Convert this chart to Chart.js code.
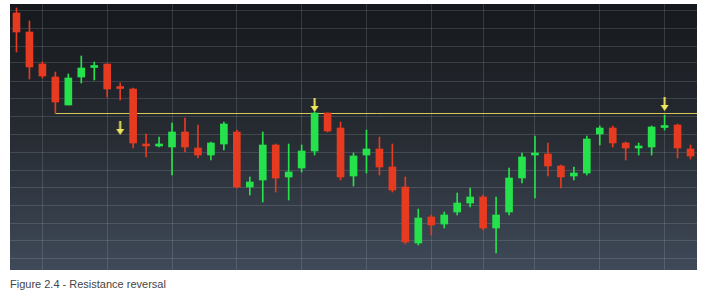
<!DOCTYPE html>
<html>
<head>
<meta charset="utf-8">
<script src="https://cdn.jsdelivr.net/npm/chart.js@4.4.1/dist/chart.umd.min.js"></script>
<style>
  html, body { margin: 0; padding: 0; background: #fff; }
  #wrap { position: relative; width: 706px; height: 298px; overflow: hidden; }
  #box { position: absolute; left: 10px; top: 4px; width: 687px; height: 266px; }
  #caption {
    position: absolute; left: 10px; top: 278px;
    font: 11px/13px "Liberation Sans", Arial, sans-serif; color: #444;
  }
</style>
</head>
<body>
<div id="wrap">
  <div id="box"><canvas id="chart"></canvas></div>
  <div id="caption">Figure 2.4 - Resistance reversal</div>
</div>
<script>
// candle values (arbitrary price units)
const opens  = [257, 238, 206, 193, 165, 193, 202.5, 206, 182, 181, 124.5, 124, 123, 138, 122, 115, 126, 138,
                83, 90, 125, 93, 102, 119, 157, 142, 94, 115, 121, 103, 83, 27, 53, 46, 58, 67, 73, 42, 58,
                92, 115, 116, 104, 94, 97, 136, 142, 127, 122, 123, 142.5, 145, 121];
const closes = [238, 203, 194, 168, 192, 202, 203, 181, 181.5, 127, 124, 124.5, 138, 123, 115, 127, 146, 83,
                88, 125, 92, 98, 119, 157, 139, 93, 114, 121, 103, 80, 28, 52, 45, 55, 67, 73, 42, 55, 92,
                113, 115.5, 104, 93, 97, 131, 142, 127, 122, 122.5, 143, 143, 122, 114];
const highs  = [262, 249, 208, 198, 196, 214, 208, 206, 187, 182, 136, 133, 147, 152, 145, 128, 148, 140,
                93, 138, 126, 126, 125, 158, 157, 148, 117, 140, 133, 126, 93, 61, 55, 58, 77, 82, 75, 73, 102,
                117, 134, 127, 105, 103, 134, 144, 144, 128, 127, 144, 155, 146, 125];
const lows   = [218, 191, 192, 157, 165, 187, 190, 173, 170, 122, 113, 123, 95, 118, 112, 110, 120, 82,
                75, 68, 78, 70, 98, 115, 138, 90, 84, 97, 95, 78, 26, 25, 35, 42, 55, 63, 40, 17, 55,
                87, 72, 94, 82, 90, 95, 125, 123, 110, 115, 115, 140, 112, 111];

const days = opens.map((_, i) => String(i + 1));

const resistanceLevel = 156.5;
const resistanceFrom = 3;
const resistanceTo = 52.5;

const arrowDays = [8, 23, 50];
const arrowTips = [135, 158, 159];

const yGrid = [12, 30, 47, 65, 83, 100, 118, 136, 154, 171, 189, 207, 224, 242, 260];
const xGridDays = [2, 7, 12, 17, 22, 27, 32, 36, 40, 45, 50];

const UP = '#25e24c';
const DOWN = '#e63b20';
const GRID = 'rgba(205, 215, 225, 0.16)';

const candleColors = opens.map((o, i) => closes[i] >= o ? UP : DOWN);

// little yellow down arrow, tip sits at the image centre
const arrowImg = document.createElement('canvas');
arrowImg.width = 9;
arrowImg.height = 28;
{
  const c = arrowImg.getContext('2d');
  c.fillStyle = '#f3e55c';
  c.fillRect(3.5, 0, 2, 9);
  c.beginPath();
  c.moveTo(0.5, 8);
  c.lineTo(8.5, 8);
  c.lineTo(4.5, 14);
  c.closePath();
  c.fill();
}

const panelBackground = {
  id: 'panelBackground',
  beforeDraw(chart) {
    const { ctx, width, height } = chart;
    const g = ctx.createLinearGradient(0, 0, 0, height);
    g.addColorStop(0, '#15181c');
    g.addColorStop(0.5, '#272c33');
    g.addColorStop(1, '#3f4958');
    ctx.save();
    ctx.fillStyle = g;
    ctx.fillRect(0, 0, width, height);
    ctx.restore();
  },
};

new Chart(document.getElementById('chart'), {
  type: 'bar',
  data: {
    labels: days,
    datasets: [
      {
        type: 'scatter',
        xAxisID: 'xl',
        data: arrowDays.map((d, i) => ({ x: d, y: arrowTips[i] })),
        pointStyle: arrowImg,
        pointRadius: 10,
        order: 0,
      },
      {
        data: opens.map((o, i) => [o, closes[i]]),
        backgroundColor: candleColors,
        barThickness: 7,
        minBarLength: 2,
        grouped: false,
        borderWidth: 0,
        order: 1,
      },
      {
        data: lows.map((l, i) => [l, highs[i]]),
        backgroundColor: candleColors,
        barThickness: 1,
        grouped: false,
        borderWidth: 0,
        order: 2,
      },
      {
        type: 'line',
        xAxisID: 'xl',
        data: [
          { x: resistanceFrom, y: resistanceLevel },
          { x: resistanceTo, y: resistanceLevel },
        ],
        borderColor: '#d6c75a',
        borderWidth: 1,
        pointRadius: 0,
        order: 3,
      },
    ],
  },
  options: {
    responsive: true,
    maintainAspectRatio: false,
    animation: false,
    layout: { padding: 0, autoPadding: false },
    plugins: {
      legend: { display: false },
      tooltip: { enabled: false },
    },
    scales: {
      x: {
        offset: true,
        ticks: { display: false, autoSkip: false },
        border: { display: false },
        grid: {
          offset: false,
          drawTicks: false,
          color: (ctx) => xGridDays.includes(ctx.index) ? GRID : 'rgba(0,0,0,0)',
        },
      },
      xl: {
        type: 'linear',
        display: false,
        offset: false,
        min: -0.5,
        max: 52.5,
      },
      y: {
        min: 0,
        max: 266,
        ticks: { display: false },
        border: { display: false },
        grid: { drawTicks: false, color: GRID },
        afterBuildTicks: (scale) => {
          scale.ticks = yGrid.map((v) => ({ value: v }));
        },
      },
    },
  },
  plugins: [panelBackground],
});
</script>
</body>
</html>
